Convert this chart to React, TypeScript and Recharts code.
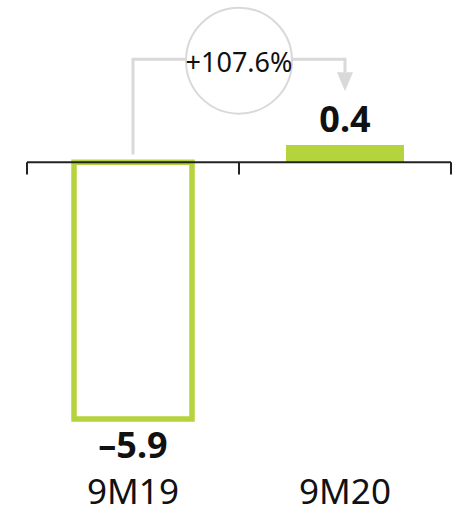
import React from "react"
import { BarChart, Bar, XAxis, YAxis, Cell, LabelList, ReferenceLine } from "recharts"

const periods = ["9M19", "9M20"]
const values = [-5.9, 0.4]
const changeLabel = "+107.6%"

const GREEN = "#b5d33d"
const GREY = "#d9d9d9"
const INK = "#111111"
const FONT = "'Noto Sans', sans-serif"

const data = periods.map((period, i) => ({ period, value: values[i] }))

function fmt(v: number) {
  return v < 0 ? "\u2013" + Math.abs(v).toFixed(1) : v.toFixed(1)
}

function ValueLabel(props: any) {
  const { x, y, width, height, value } = props
  const top = Math.min(y, y + height)
  const bottom = Math.max(y, y + height)
  const cx = x + width / 2
  const neg = value < 0
  return (
    <text
      x={cx}
      y={neg ? bottom + 39 : top - 13}
      textAnchor="middle"
      fontFamily={FONT}
      fontWeight={700}
      fontSize={36}
      fill={INK}
    >
      {fmt(value)}
    </text>
  )
}

// bracket from first bar to second, with the change bubble in the middle
function Connector(props: any) {
  const { x1, y1, x2, y2 } = props
  const mx = (x1 + x2) / 2
  const tip = y2 + 32
  return (
    <g>
      <path d={`M${x1},${y1} V${y2} H${x2} V${tip - 19}`} fill="none" stroke={GREY} strokeWidth={3} />
      <path d={`M${x2 - 8},${tip - 19} L${x2 + 8},${tip - 19} L${x2},${tip} Z`} fill={GREY} />
      <circle cx={mx} cy={y2 + 1.5} r={53} fill="#fff" stroke={GREY} strokeWidth={2} />
      <text x={mx} y={y2 + 13} textAnchor="middle" fontFamily={FONT} fontSize={27} fill={INK}>
        {changeLabel}
      </text>
    </g>
  )
}

export default function App() {
  return (
    <div style={{ position: "absolute", left: 0, top: 0 }}>
      <BarChart width={457} height={514} data={data} margin={{ top: 10, right: 6, left: 27, bottom: 0 }}>
        <YAxis hide domain={[-7, 3.5]} />
        <XAxis
          dataKey="period"
          height={47}
          axisLine={false}
          tickLine={false}
          interval={0}
          tickMargin={6}
          tick={{ fontSize: 35, fill: INK, fontFamily: FONT }}
        />
        <Bar dataKey="value" barSize={118} isAnimationActive={false}>
          {data.map((d, i) => (
            <Cell
              key={i}
              fill={d.value < 0 ? "#ffffff" : GREEN}
              stroke={d.value < 0 ? GREEN : "none"}
              strokeWidth={d.value < 0 ? 5.5 : 0}
            />
          ))}
          <LabelList dataKey="value" content={ValueLabel} />
        </Bar>
        <ReferenceLine y={0} stroke="#222" strokeWidth={2} />
        <ReferenceLine segment={[{ x: periods[0], y: 0 }, { x: periods[0], y: -0.28 }]} position="start" stroke="#222" strokeWidth={2} />
        <ReferenceLine segment={[{ x: periods[1], y: 0 }, { x: periods[1], y: -0.28 }]} position="start" stroke="#222" strokeWidth={2} />
        <ReferenceLine segment={[{ x: periods[1], y: 0 }, { x: periods[1], y: -0.28 }]} position="end" stroke="#222" strokeWidth={2} />
        <ReferenceLine
          segment={[{ x: periods[0], y: 0.18 }, { x: periods[1], y: 2.37 }]}
          shape={Connector}
        />
      </BarChart>
    </div>
  )
}
